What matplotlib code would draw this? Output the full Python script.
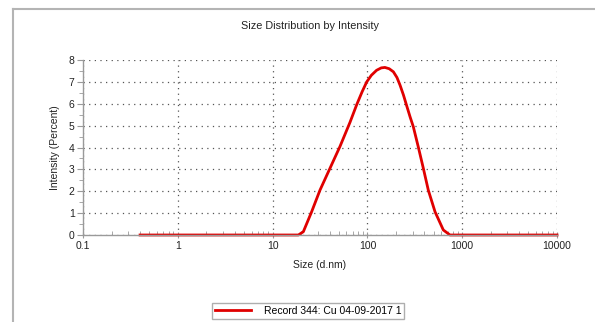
import matplotlib
matplotlib.use("Agg")
import matplotlib.pyplot as plt
from matplotlib.ticker import FixedLocator, LogLocator, NullFormatter

plt.rcParams['font.family'] = ['Liberation Sans', 'DejaVu Sans']

# values
size_nm = [0.4, 5.0, 18.7, 21.1, 25.8, 31.6, 40.3, 51.4, 65.5, 77, 88, 98.4,
           110, 125, 140, 153, 170, 188, 205, 221, 240, 260, 282, 305, 344,
           389, 439, 517, 632, 743, 1000, 10000]
intensity = [0, 0, 0, 0.15, 1.06, 2.05, 3.05, 4.05, 5.15, 5.95, 6.55, 7.0,
             7.3, 7.53, 7.64, 7.66, 7.6, 7.46, 7.2, 6.85, 6.4, 5.9, 5.4, 4.95,
             4.03, 3.05, 2.05, 1.06, 0.23, 0, 0, 0]
x_ticks = [0.1, 1, 10, 100, 1000, 10000]
x_labels = ["0.1", "1", "10", "100", "1000", "10000"]
y_ticks = [0, 1, 2, 3, 4, 5, 6, 7, 8]
legend_label = "Record 344: Cu 04-09-2017 1"

fig = plt.figure(figsize=(5.95, 3.22), dpi=100)

# outer frame lines (top and left)
fig.add_artist(plt.Line2D([13 / 595, 1], [1 - 9 / 322, 1 - 9 / 322],
                          color="#b4b4b4", lw=1.5, transform=fig.transFigure))
fig.add_artist(plt.Line2D([13 / 595, 13 / 595], [0, 1 - 9 / 322],
                          color="#b4b4b4", lw=1.5, transform=fig.transFigure))

ax = fig.add_axes([83 / 595, 87 / 322, 474 / 595, 175 / 322])
line, = ax.plot(size_nm, intensity, color="#e00000", lw=2, label=legend_label,
                clip_on=False, solid_joinstyle="round")
ax.set_xscale("log")
ax.set_xlim(0.1, 10000)
ax.set_ylim(0, 8)

ax.xaxis.set_major_locator(FixedLocator(x_ticks))
ax.set_xticklabels(x_labels)
ax.xaxis.set_minor_locator(LogLocator(base=10, subs=range(2, 10)))
ax.xaxis.set_minor_formatter(NullFormatter())
ax.yaxis.set_major_locator(FixedLocator(y_ticks))
ax.yaxis.set_minor_locator(FixedLocator([v + 0.5 for v in y_ticks[:-1]]))

ax.grid(True, which="major", color="#555555", lw=0.9, linestyle=(0, (1, 3.5)))
for s in ["top", "right"]:
    ax.spines[s].set_visible(False)
for s in ["left", "bottom"]:
    ax.spines[s].set_color("#9a9a9a")
    ax.spines[s].set_linewidth(1.0)

ax.tick_params(axis="x", which="major", labelsize=7.5, colors="#9a9a9a",
               labelcolor="#222222", direction="inout", length=5, pad=2)
ax.tick_params(axis="y", which="major", labelsize=7.5, colors="#9a9a9a",
               labelcolor="#222222", direction="out", length=4, pad=2)
ax.tick_params(axis="x", which="minor", colors="#9a9a9a", direction="in", length=3)
ax.tick_params(axis="y", which="minor", colors="#9a9a9a", direction="out", length=3)

ax.set_xlabel("Size (d.nm)", fontsize=7.5, color="#222222", labelpad=6)
ax.set_ylabel("Intensity (Percent)", fontsize=7.5, color="#222222", labelpad=6)

fig.text(310 / 595, 1 - 26 / 322, "Size Distribution by Intensity", fontsize=7.8,
         color="#222222", ha="center", va="center")

leg = fig.legend(handles=[line], loc="center", bbox_to_anchor=(308 / 595, 1 - 311 / 322),
                 fontsize=7.5, frameon=True, fancybox=False, borderpad=0.3,
                 handlelength=3.5, handletextpad=1.2)
leg.get_frame().set_edgecolor("#9a9a9a")
leg.get_frame().set_linewidth(1.0)

fig.savefig("out.png", dpi=100)
